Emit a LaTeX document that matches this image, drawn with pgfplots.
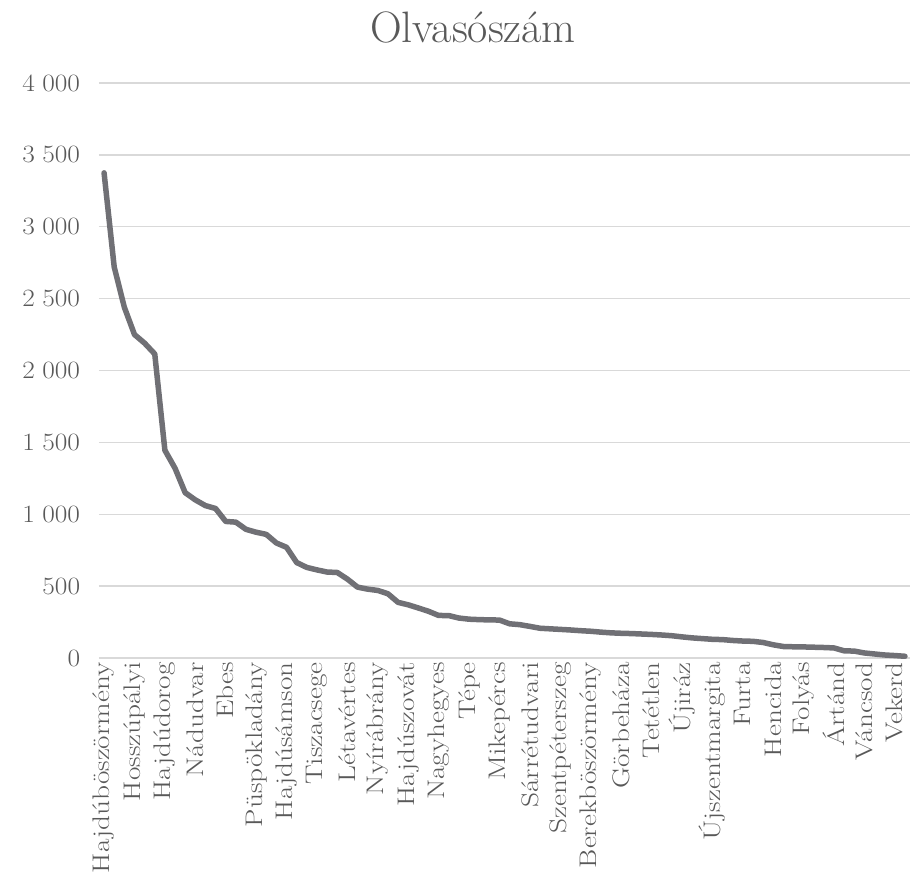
\documentclass[border=0pt]{standalone}
\usepackage{pgfplots}
\pgfplotsset{compat=1.18}
\usepackage{pgfplotstable}

\definecolor{linegray}{RGB}{112,112,117}
\definecolor{txtgray}{RGB}{89,89,89}
\definecolor{gridgray}{RGB}{217,217,217}

% Olvasószám, települések csökkenő sorrendben
\pgfplotstableread{
idx val
0 3375
1 2720
2 2440
3 2250
4 2190
5 2115
6 1445
7 1320
8 1150
9 1100
10 1060
11 1040
12 950
13 945
14 895
15 875
16 860
17 800
18 770
19 664
20 630
21 613
22 598
23 595
24 549
25 493
26 479
27 470
28 447
29 387
30 370
31 348
32 325
33 296
34 295
35 278
36 270
37 267
38 265
39 264
40 238
41 232
42 220
43 207
44 203
45 199
46 195
47 190
48 186
49 180
50 175
51 172
52 170
53 167
54 164
55 160
56 155
57 147
58 140
59 135
60 130
61 128
62 122
63 118
64 116
65 108
66 92
67 80
68 78
69 77
70 75
71 73
72 70
73 50
74 48
75 35
76 28
77 21
78 17
79 12
}\olvasok

\begin{document}
\begin{tikzpicture}[x=1pt,y=1pt]
\useasboundingbox (0,0) rectangle (910,881);
\node[text=txtgray, anchor=base, font=\fontsize{44}{52}\selectfont] at (473,838) {Olvasószám};
\begin{axis}[
    at={(99pt,223pt)}, anchor=south west,
    scale only axis,
    width=811pt, height=575pt,
    xmin=-0.5, xmax=79.5,
    ymin=0, ymax=4000,
    ytick={0,500,...,4000},
    xtick={0,3,...,78},
    xticklabels={Hajdúböszörmény,Hosszúpályi,Hajdúdorog,Nádudvar,Ebes,Püspökladány,Hajdúsámson,Tiszacsege,Létavértes,Nyírábrány,Hajdúszovát,Nagyhegyes,Tépe,Mikepércs,Sárrétudvari,Szentpéterszeg,Berekböszörmény,Görbeháza,Tetétlen,Újiráz,Újszentmargita,Furta,Hencida,Folyás,Ártánd,Váncsod,Vekerd},
    axis line style={draw=none},
    major tick length=0pt,
    ymajorgrids,
    grid style={gridgray, line width=1.4pt},
    tick label style={text=txtgray},
    yticklabel style={font=\fontsize{23}{28}\selectfont, xshift=-15pt, xscale=1.1},
    xticklabel style={font=\fontsize{24}{28}\selectfont, rotate=90, anchor=east, xscale=1.22},
    /pgf/number format/.cd, 1000 sep={\;},
]
\addplot[linegray, line width=5.5pt, line join=round, line cap=round] table[x=idx, y=val] {\olvasok};
\end{axis}
\end{tikzpicture}
\end{document}
